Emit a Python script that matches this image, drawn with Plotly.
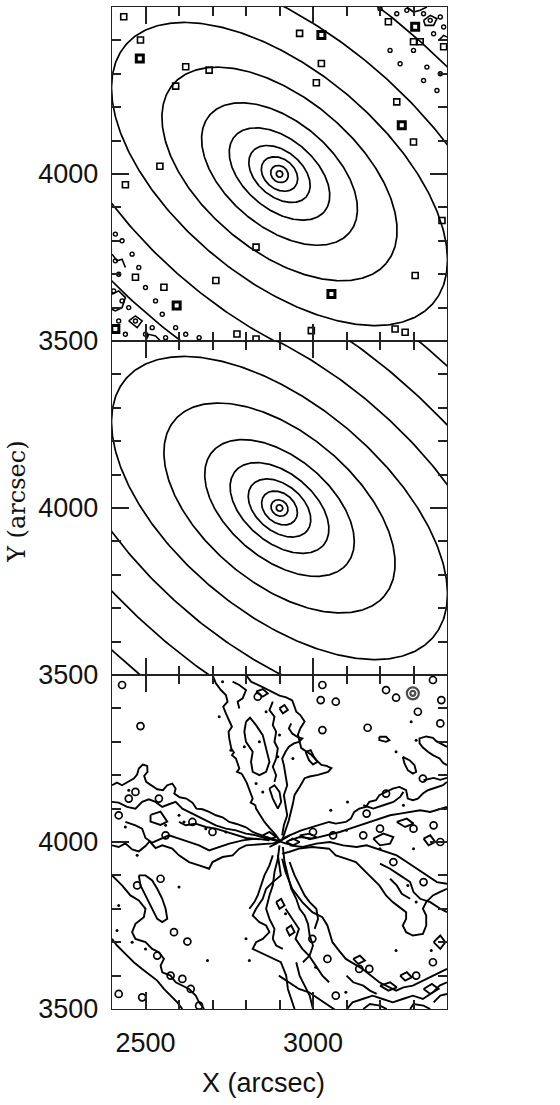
import numpy as np
import plotly.graph_objects as go
from plotly.subplots import make_subplots

# ---------------- data ----------------
X_RANGE = [2400, 3400]
Y_RANGE = [3500, 4500]
CENTER_X = 2900
CENTER_Y = 4000
PA_DEG = -40.0  # major axis runs upper-left to lower-right

X_TICKS = [2500, 3000]
Y_TICKS = [3500, 4000]

# panel 1: galaxy isophotes (semi-major axis, axis ratio)
GAL_A = [10, 28, 60, 105, 175, 273, 416, 600, 817, 1106]
GAL_Q = [0.95, 0.85, 0.75, 0.65, 0.60, 0.58, 0.55, 0.52, 0.52, 0.52]

# panel 1: stars / compact sources
GAL_STAR_X = [2435, 2485, 2620, 2590, 2690, 2960, 3025, 3010, 3225, 3300, 3320, 3390,
              3250, 3300, 2543, 2440, 3385, 2830, 3305, 3245, 3275, 2995, 2830, 2773,
              2470, 2710, 2555]
GAL_STAR_Y = [4471, 4401, 4321, 4263, 4311, 4421, 4331, 4273, 4456, 4396, 4396, 4381,
              4216, 4096, 4023, 3968, 3861, 3781, 3696, 3536, 3526, 3531, 3506, 3521,
              3691, 3681, 3661]
GAL_BRIGHT_X = [2483, 3025, 3305, 3265, 3055, 2410, 2593]
GAL_BRIGHT_Y = [4346, 4416, 4441, 4146, 3641, 3536, 3606]
GAL_SPECK_X = [2410, 2420, 2405, 2430, 2450, 2470, 2420, 2440, 2500, 2520, 2560, 2410,
               2430, 2460, 2480, 2500, 2530, 2550, 2590, 2620, 2660, 3330, 3350, 3380,
               3360, 3390, 3250, 3280, 3200, 3300, 3340, 3380, 3370, 3330, 3260, 3230]
GAL_SPECK_Y = [3740, 3700, 3650, 3620, 3600, 3560, 3560, 3520, 3520, 3540, 3510, 3820,
               3800, 3760, 3720, 3660, 3620, 3580, 3540, 3520, 3510, 4480, 4460, 4470,
               4420, 4440, 4480, 4490, 4495, 4370, 4320, 4300, 4250, 4280, 4330, 4370]

# panel 1: sky-noise contours in the corners
GAL_NOISE_A = [(3330, 4460), (3350, 4475), (3370, 4465), (3360, 4445), (3335, 4445), (3330, 4460)]
GAL_NOISE_B = [(3375, 4400), (3390, 4415), (3400, 4410)]
GAL_NOISE_C = [(3280, 4500), (3300, 4485), (3320, 4490), (3340, 4500)]
GAL_NOISE_D = [(2400, 3640), (2420, 3650), (2440, 3630), (2430, 3600), (2410, 3590), (2400, 3595)]
GAL_NOISE_E = [(2450, 3560), (2470, 3575), (2490, 3560), (2475, 3540), (2450, 3560)]
GAL_NOISE_F = [(2400, 3760), (2415, 3740), (2430, 3745), (2440, 3720)]
GAL_NOISE_G = [(2500, 3500), (2510, 3520), (2530, 3515), (2545, 3500)]
GAL_NOISE = [GAL_NOISE_A, GAL_NOISE_B, GAL_NOISE_C, GAL_NOISE_D, GAL_NOISE_E, GAL_NOISE_F,
             GAL_NOISE_G]

# panel 2: model isophotes
MODEL_A = [10, 27, 59, 107, 172, 262, 409, 600, 798, 1010, 1250]
MODEL_Q = [0.95, 0.85, 0.75, 0.65, 0.60, 0.58, 0.55, 0.52, 0.52, 0.52, 0.52]

# panel 3: residual contours (x, y)
RES_TOP_LOBE_LEFT = [(2700, 4500), (2710, 4475), (2725, 4455), (2740, 4440), (2745, 4420),
                     (2732, 4405), (2740, 4385), (2750, 4365), (2758, 4345), (2748, 4330),
                     (2750, 4310), (2756, 4280), (2764, 4268), (2758, 4260), (2770, 4250),
                     (2780, 4220), (2773, 4210), (2786, 4205), (2790, 4200), (2802, 4178),
                     (2810, 4155), (2820, 4130), (2814, 4118), (2828, 4110), (2830, 4100),
                     (2842, 4080), (2855, 4060), (2870, 4042), (2888, 4022), (2900, 4005)]
RES_TOP_LOBE_RIGHT = [(2800, 4500), (2815, 4480), (2845, 4466), (2875, 4450), (2900, 4438),
                      (2920, 4433), (2938, 4424), (2945, 4405), (2950, 4390), (2962, 4380),
                      (2975, 4361), (2962, 4340), (2955, 4321), (2965, 4281), (2980, 4272),
                      (2995, 4261), (3010, 4245), (3025, 4231), (3040, 4228), (3055, 4221),
                      (3045, 4210), (3015, 4201), (2990, 4196), (2975, 4191), (2960, 4165),
                      (2945, 4141), (2940, 4115), (2935, 4091), (2928, 4065), (2920, 4041),
                      (2910, 4011)]
RES_TOP_LOBE_INNER = [(2935, 4355), (2928, 4340), (2938, 4325), (2953, 4315), (2968, 4310),
                      (2958, 4300), (2943, 4295), (2928, 4285), (2918, 4270), (2908, 4250),
                      (2913, 4230), (2918, 4200), (2923, 4170), (2913, 4140), (2918, 4110),
                      (2923, 4080), (2913, 4050), (2908, 4020)]
RES_TOP_LOBE_INNER_B = [(2880, 4420), (2870, 4395), (2885, 4375), (2880, 4350), (2890, 4330),
                        (2885, 4300), (2895, 4280), (2890, 4250), (2880, 4225), (2890, 4200),
                        (2885, 4180)]
RES_TOP_LOBE_INNER_C = [(2760, 4480), (2780, 4470), (2800, 4455), (2790, 4430), (2775, 4420),
                        (2780, 4400)]
RES_TOP_LOBE_BLOB_A = [(2800, 4360), (2795, 4330), (2800, 4300), (2820, 4270), (2815, 4240),
                       (2820, 4210), (2840, 4200), (2860, 4210), (2870, 4240), (2860, 4280),
                       (2850, 4320), (2830, 4350), (2812, 4372), (2800, 4360)]
RES_TOP_LOBE_BLOB_B = [(2870, 4160), (2880, 4130), (2895, 4100), (2905, 4120), (2900, 4150),
                       (2885, 4170), (2870, 4160)]
RES_TOP_LOBE_BLOB_C = [(2978, 4270), (2993, 4275), (3003, 4255), (3013, 4240), (3000, 4232),
                       (2988, 4245), (2978, 4270)]
RES_TOP_LOBE_BLOB_D = [(2830, 4450), (2850, 4458), (2865, 4445), (2850, 4435), (2830, 4450)]
RES_TOP_LOBE_BLOB_E = [(2900, 4400), (2915, 4410), (2925, 4395), (2910, 4385), (2900, 4400)]

RES_LEFT_LOBE_TOP = [(2400, 4170), (2415, 4178), (2430, 4170), (2450, 4180), (2465, 4190),
                     (2475, 4202), (2480, 4220), (2492, 4232), (2505, 4228), (2506, 4210),
                     (2496, 4198), (2502, 4180), (2518, 4168), (2535, 4158), (2552, 4155),
                     (2565, 4170), (2580, 4175), (2590, 4160), (2586, 4145), (2602, 4134),
                     (2622, 4130), (2640, 4118), (2652, 4100), (2670, 4098), (2690, 4090),
                     (2710, 4080), (2730, 4074), (2750, 4060), (2772, 4054), (2800, 4044),
                     (2820, 4030), (2845, 4020), (2870, 4010), (2900, 4000)]
RES_LEFT_LOBE_BOTTOM = [(2400, 3990), (2420, 3985), (2440, 3996), (2460, 3978), (2480, 3972),
                        (2500, 3988), (2512, 4002), (2530, 3982), (2550, 3990), (2580, 3980),
                        (2600, 3960), (2630, 3940), (2660, 3930), (2690, 3920), (2700, 3940),
                        (2730, 3955), (2760, 3960), (2780, 3980), (2800, 3990), (2840, 3992),
                        (2880, 3996), (2900, 4000)]
RES_LEFT_LOBE_INNER_A = [(2400, 4120), (2420, 4118), (2445, 4105), (2470, 4100), (2490, 4120),
                         (2510, 4128), (2530, 4120), (2550, 4105), (2570, 4113), (2590, 4120),
                         (2610, 4100), (2630, 4090), (2650, 4080), (2670, 4070), (2690, 4060),
                         (2710, 4050), (2740, 4040), (2770, 4035), (2800, 4025), (2830, 4020),
                         (2860, 4010), (2900, 4003)]
RES_LEFT_LOBE_INNER_B = [(2440, 4060), (2470, 4050), (2490, 4040), (2500, 4012), (2520, 3998),
                         (2545, 4010), (2570, 4020), (2600, 4010), (2630, 4000), (2660, 3990),
                         (2690, 3975), (2720, 3985), (2750, 3995), (2790, 4005), (2830, 4010),
                         (2870, 4005)]
RES_LEFT_LOBE_INNER_C = [(2600, 4060), (2620, 4050), (2650, 4055), (2680, 4045), (2710, 4040),
                         (2740, 4030), (2770, 4020), (2800, 4012), (2840, 4008)]
RES_LEFT_LOBE_BLOB = [(2515, 4081), (2545, 4091), (2565, 4061), (2545, 4051), (2515, 4061),
                      (2515, 4081)]

RES_RIGHT_LOBE_TOP = [(2905, 4005), (2930, 4020), (2965, 4035), (3000, 4045), (3030, 4055),
                      (3048, 4060), (3068, 4055), (3098, 4060), (3113, 4070), (3123, 4090),
                      (3138, 4100), (3158, 4105), (3168, 4120), (3188, 4125), (3198, 4140),
                      (3218, 4150), (3238, 4160), (3258, 4165), (3278, 4155), (3283, 4130),
                      (3298, 4125), (3313, 4130), (3328, 4145), (3343, 4155), (3358, 4160),
                      (3373, 4165), (3388, 4170), (3400, 4180)]
RES_RIGHT_LOBE_INNER_A = [(2930, 4005), (2960, 4015), (3000, 4010), (3040, 4020), (3080, 4030),
                          (3110, 4040), (3140, 4050), (3170, 4060), (3200, 4070), (3230, 4080),
                          (3260, 4085), (3290, 4090), (3320, 4095), (3350, 4090), (3380, 4100),
                          (3400, 4105)]
RES_RIGHT_LOBE_INNER_B = [(2930, 3990), (2970, 3985), (3010, 3995), (3050, 4000), (3090, 3990),
                          (3130, 3985), (3160, 3990), (3190, 3980), (3220, 3970), (3250, 3960),
                          (3280, 3940), (3310, 3920), (3340, 3900), (3370, 3880), (3400, 3875)]
RES_RIGHT_LOBE_INNER_C = [(3200, 3935), (3230, 3920), (3260, 3900), (3290, 3880), (3300, 3850),
                          (3320, 3830), (3350, 3820), (3380, 3800), (3400, 3790)]
RES_RIGHT_LOBE_INNER_D = [(3150, 4110), (3180, 4100), (3210, 4110), (3240, 4120), (3260, 4135),
                          (3270, 4150)]
RES_RIGHT_LOBE_INNER_E = [(3230, 3890), (3250, 3870), (3265, 3845), (3290, 3830)]
RES_RIGHT_LOBE_BLOB_A = [(3250, 4060), (3280, 4070), (3300, 4055), (3275, 4045), (3250, 4060)]
RES_RIGHT_LOBE_BLOB_B = [(3330, 4010), (3350, 4020), (3365, 4000), (3345, 3990), (3330, 4010)]
RES_RIGHT_LOBE_BLOB_C = [(3180, 4010), (3210, 4025), (3240, 4015), (3230, 3995), (3200, 3990),
                         (3180, 4010)]
RES_RIGHT_LOBE_BLOB_D = [(3360, 3700), (3380, 3720), (3395, 3700), (3380, 3680), (3360, 3700)]
RES_LENS_TOP = [(2908, 3965), (2928, 3970), (2958, 3980), (2998, 3985), (3048, 3980),
                (3068, 3960), (3098, 3950), (3128, 3940), (3158, 3910), (3178, 3890),
                (3198, 3870), (3218, 3840), (3238, 3820), (3258, 3805), (3278, 3790),
                (3278, 3770), (3268, 3750), (3278, 3730), (3298, 3720), (3328, 3725),
                (3338, 3750), (3338, 3780), (3328, 3800), (3338, 3820), (3358, 3840),
                (3378, 3850), (3400, 3860)]
RES_LENS_BOTTOM = [(2908, 3950), (2918, 3910), (2938, 3860), (2968, 3820), (2998, 3790),
                   (3028, 3775), (3043, 3750), (3058, 3700), (3080, 3672), (3098, 3650),
                   (3148, 3620), (3175, 3598), (3198, 3580), (3248, 3555), (3270, 3565),
                   (3298, 3570), (3358, 3600), (3400, 3620)]
RES_BOTTOM_LOBE_LEFT = [(2895, 3961), (2904, 3900), (2880, 3880), (2860, 3860), (2850, 3830),
                        (2830, 3800), (2820, 3780), (2840, 3760), (2860, 3750), (2870, 3730),
                        (2850, 3710), (2830, 3700), (2820, 3680), (2840, 3670), (2860, 3660),
                        (2880, 3650), (2904, 3640), (2920, 3600), (2925, 3560), (2935, 3530),
                        (2945, 3500)]
RES_BOTTOM_INNER_A = [(2900, 3990), (2895, 3950), (2885, 3910), (2880, 3870), (2870, 3840),
                      (2860, 3800), (2870, 3770), (2885, 3740), (2880, 3710), (2890, 3690),
                      (2910, 3680)]
RES_BOTTOM_INNER_B = [(2910, 3985), (2915, 3940), (2925, 3900), (2935, 3860), (2950, 3830),
                      (2960, 3800), (2975, 3780), (2985, 3755), (2990, 3720), (3000, 3690),
                      (2990, 3660), (2970, 3640)]
RES_BOTTOM_INNER_C = [(2918, 3800), (2938, 3770), (2958, 3740), (2948, 3710), (2968, 3680),
                      (2988, 3660), (3008, 3630), (3028, 3600), (3048, 3580)]
RES_BOTTOM_INNER_D = [(2880, 3960), (2870, 3930), (2855, 3900), (2845, 3870), (2835, 3840),
                      (2825, 3820), (2810, 3800)]
RES_BOTTOM_INNER_E = [(2930, 3940), (2945, 3900), (2960, 3870), (2975, 3840), (2990, 3820),
                      (3010, 3800), (3015, 3770), (3005, 3740)]
RES_BOTTOM_INNER_F = [(2950, 3640), (2960, 3600), (2975, 3570), (2990, 3540), (3000, 3500)]
RES_BOTTOM_BLOB_A = [(2890, 3820), (2905, 3830), (2915, 3810), (2900, 3800), (2890, 3820)]
RES_BOTTOM_BLOB_B = [(2920, 3740), (2935, 3750), (2945, 3730), (2930, 3720), (2920, 3740)]
RES_LR_RING_A = [(2898, 3600), (2928, 3580), (2958, 3560), (2988, 3550), (3018, 3530),
                 (3048, 3510), (3068, 3496)]
RES_LR_RING_B = [(3098, 3496), (3118, 3520), (3148, 3530), (3178, 3540), (3208, 3530),
                 (3238, 3520), (3268, 3530), (3298, 3540), (3328, 3530), (3358, 3550),
                 (3378, 3570), (3400, 3580)]
RES_LR_RING_C = [(3100, 3600), (3120, 3580), (3150, 3570), (3170, 3555), (3190, 3545)]
RES_LR_BLOB_A = [(3200, 3570), (3230, 3580), (3250, 3565), (3225, 3555), (3200, 3570)]
RES_LR_BLOB_B = [(3330, 3560), (3355, 3575), (3375, 3560), (3350, 3545), (3330, 3560)]
RES_LR_BLOB_C = [(3260, 3600), (3280, 3610), (3295, 3595), (3275, 3585), (3260, 3600)]
RES_LR_BLOB_D = [(3120, 3650), (3140, 3660), (3155, 3645), (3135, 3635), (3120, 3650)]
RES_LR_EDGE_A = [(3150, 3500), (3170, 3515), (3200, 3510), (3220, 3500)]
RES_LR_EDGE_B = [(3290, 3500), (3300, 3515), (3330, 3510), (3350, 3500)]
RES_LR_EDGE_C = [(3360, 3520), (3380, 3540), (3400, 3545)]
RES_UR_EDGE_BLOB = [(3400, 4285), (3388, 4292), (3368, 4302), (3358, 4312), (3338, 4316),
                    (3318, 4310), (3318, 4296), (3328, 4283), (3343, 4270), (3358, 4260),
                    (3378, 4250), (3388, 4237), (3400, 4230)]
RES_UR_EDGE_LINE = [(3330, 4185), (3360, 4192), (3380, 4186), (3400, 4192)]
RES_UR_ARC_BLOB_A = [(3268, 4255), (3288, 4245), (3303, 4230), (3308, 4210), (3298, 4205),
                     (3283, 4215), (3273, 4235), (3268, 4255)]
RES_UR_ARC_BLOB_B = [(3198, 4315), (3218, 4315), (3228, 4305), (3218, 4300), (3198, 4305),
                     (3198, 4315)]
RES_LL_RING_A = [(2400, 3900), (2430, 3870), (2455, 3840), (2480, 3825), (2500, 3800),
                 (2495, 3775), (2470, 3755), (2460, 3730), (2470, 3710), (2500, 3700),
                 (2520, 3680), (2540, 3670), (2555, 3650), (2545, 3630), (2550, 3610),
                 (2575, 3600), (2590, 3580), (2610, 3570), (2630, 3560), (2650, 3540),
                 (2660, 3520), (2675, 3500)]
RES_LL_RING_B = [(2400, 3710), (2415, 3690), (2440, 3665), (2465, 3640), (2490, 3620),
                 (2515, 3600), (2535, 3585), (2555, 3560), (2575, 3540), (2595, 3520),
                 (2610, 3500)]
RES_LL_ELONG_BLOB = [(2480, 3900), (2500, 3900), (2520, 3885), (2535, 3860), (2550, 3830),
                     (2560, 3800), (2565, 3770), (2550, 3760), (2535, 3770), (2520, 3800),
                     (2510, 3820), (2495, 3850), (2485, 3870), (2480, 3900)]
RES_CENTER_LOOP_A = [(2850, 4020), (2870, 4030), (2890, 4015), (2870, 4008), (2850, 4020)]
RES_CENTER_LOOP_B = [(2920, 4000), (2940, 4010), (2960, 4000), (2940, 3990), (2920, 4000)]
RES_CENTER_LOOP_C = [(2960, 4020), (2990, 4025), (3010, 4015), (2990, 4008), (2960, 4020)]
RES_CENTER_CROSS_A = [(2860, 4015), (2880, 4008), (2900, 4000), (2920, 3995), (2945, 3990)]
RES_CENTER_CROSS_B = [(2870, 3985), (2890, 3995), (2910, 4010), (2930, 4020)]

RES_BLOB_X = [2430, 2485, 2835, 3028, 3023, 3068, 3028, 3163, 3218, 3248, 3313, 3358,
              3383, 3328, 3218, 2585, 2625, 2535, 2575, 2610, 2635, 2490, 2420, 2998,
              3043, 3358, 3308, 3138, 3168, 3068, 2545, 2475, 2660, 2450, 2470, 2540,
              2640, 2700, 2560, 2420, 3000, 3060, 3150, 3200, 3300, 3360, 3240, 3380,
              3160, 3330, 3380]
RES_BLOB_Y = [4470, 4347, 4435, 4470, 4425, 4420, 4335, 4342, 4455, 4432, 4390, 4485,
              4425, 4190, 4145, 3730, 3702, 3660, 3600, 3590, 3560, 3535, 3545, 3710,
              3650, 3640, 3600, 3620, 3620, 3540, 3890, 3870, 3510, 4130, 4150, 4130,
              4060, 4030, 4020, 4080, 4030, 4020, 4020, 4040, 4040, 4050, 3940, 4000,
              4085, 3880, 4355]
RES_STAR_X = [3298]
RES_STAR_Y = [4445]
RES_SPECK_X = [2730, 2720, 2755, 2795, 2840, 2895, 2440, 2450, 2560, 2615, 2680, 3293,
               3308, 3248, 3103, 3053, 2475, 2600, 2420, 2685, 2800, 2810, 2460, 2500,
               2415, 2918, 3008, 3248, 3353, 3283, 3308, 3098, 2860, 2830, 2850, 2900,
               2940, 3100, 3200, 3270, 3300, 2600, 2740]
RES_SPECK_Y = [4480, 4375, 4275, 4285, 4300, 4255, 4045, 4155, 4050, 4060, 4040, 4360,
               4305, 4270, 4120, 4095, 3960, 3865, 3810, 3645, 3710, 3645, 3700, 3680,
               3735, 3785, 3625, 3675, 3675, 3870, 3820, 3550, 4390, 4175, 4150, 4320,
               4250, 4035, 3980, 4110, 3980, 4080, 4030]

RES_LINES = [RES_TOP_LOBE_LEFT, RES_TOP_LOBE_RIGHT, RES_TOP_LOBE_INNER, RES_TOP_LOBE_INNER_B,
             RES_TOP_LOBE_INNER_C, RES_TOP_LOBE_BLOB_A, RES_TOP_LOBE_BLOB_B,
             RES_TOP_LOBE_BLOB_C, RES_TOP_LOBE_BLOB_D, RES_TOP_LOBE_BLOB_E,
             RES_LEFT_LOBE_TOP, RES_LEFT_LOBE_BOTTOM, RES_LEFT_LOBE_INNER_A,
             RES_LEFT_LOBE_INNER_B, RES_LEFT_LOBE_INNER_C, RES_LEFT_LOBE_BLOB,
             RES_RIGHT_LOBE_TOP, RES_RIGHT_LOBE_INNER_A, RES_RIGHT_LOBE_INNER_B,
             RES_RIGHT_LOBE_INNER_C, RES_RIGHT_LOBE_INNER_D, RES_RIGHT_LOBE_INNER_E,
             RES_RIGHT_LOBE_BLOB_A, RES_RIGHT_LOBE_BLOB_B, RES_RIGHT_LOBE_BLOB_C,
             RES_RIGHT_LOBE_BLOB_D, RES_LENS_TOP, RES_LENS_BOTTOM, RES_BOTTOM_LOBE_LEFT,
             RES_BOTTOM_INNER_A, RES_BOTTOM_INNER_B, RES_BOTTOM_INNER_C, RES_BOTTOM_INNER_D,
             RES_BOTTOM_INNER_E, RES_BOTTOM_INNER_F, RES_BOTTOM_BLOB_A, RES_BOTTOM_BLOB_B,
             RES_LR_RING_A, RES_LR_RING_B, RES_LR_RING_C, RES_LR_BLOB_A, RES_LR_BLOB_B,
             RES_LR_BLOB_C, RES_LR_BLOB_D, RES_LR_EDGE_A, RES_LR_EDGE_B, RES_LR_EDGE_C,
             RES_UR_EDGE_BLOB, RES_UR_EDGE_LINE, RES_UR_ARC_BLOB_A, RES_UR_ARC_BLOB_B,
             RES_LL_RING_A, RES_LL_RING_B, RES_LL_ELONG_BLOB, RES_CENTER_LOOP_A,
             RES_CENTER_LOOP_B, RES_CENTER_LOOP_C, RES_CENTER_CROSS_A, RES_CENTER_CROSS_B]

# ---------------- helpers ----------------
LINE_W = 1.7
INK = "#000000"
AXIS_INK = "#222222"


def ellipse_path(a_list, q_list):
    th = np.deg2rad(PA_DEG)
    t = np.linspace(0, 2 * np.pi, 400)
    xs, ys = [], []
    for a, q in zip(a_list, q_list):
        b = a * q
        x = CENTER_X + a * np.cos(t) * np.cos(th) - b * np.sin(t) * np.sin(th)
        y = CENTER_Y + a * np.cos(t) * np.sin(th) + b * np.sin(t) * np.cos(th)
        xs += list(x) + [None]
        ys += list(y) + [None]
    return xs, ys


def join_paths(paths):
    xs, ys = [], []
    for p in paths:
        xs += [pt[0] for pt in p] + [None]
        ys += [pt[1] for pt in p] + [None]
    return xs, ys


fig = make_subplots(rows=3, cols=1, shared_xaxes=True, vertical_spacing=0)

# panel 1
gx, gy = ellipse_path(GAL_A, GAL_Q)
fig.add_trace(go.Scatter(x=gx, y=gy, mode="lines", line=dict(color=INK, width=LINE_W),
                         hoverinfo="skip"), row=1, col=1)
nx, ny = join_paths(GAL_NOISE)
fig.add_trace(go.Scatter(x=nx, y=ny, mode="lines", line=dict(color=INK, width=1.6),
                         hoverinfo="skip"), row=1, col=1)
fig.add_trace(go.Scatter(x=GAL_STAR_X, y=GAL_STAR_Y, mode="markers",
                         marker=dict(symbol="square-open", size=6, color=INK,
                                     line=dict(width=1.6, color=INK)), hoverinfo="skip"),
              row=1, col=1)
fig.add_trace(go.Scatter(x=GAL_BRIGHT_X, y=GAL_BRIGHT_Y, mode="markers",
                         marker=dict(symbol="square-open", size=7, color=INK,
                                     line=dict(width=3, color=INK)), hoverinfo="skip"),
              row=1, col=1)
fig.add_trace(go.Scatter(x=GAL_SPECK_X, y=GAL_SPECK_Y, mode="markers",
                         marker=dict(symbol="circle-open", size=4, color=INK,
                                     line=dict(width=1.4, color=INK)), hoverinfo="skip"),
              row=1, col=1)

# panel 2
mx, my = ellipse_path(MODEL_A, MODEL_Q)
fig.add_trace(go.Scatter(x=mx, y=my, mode="lines", line=dict(color=INK, width=LINE_W),
                         hoverinfo="skip"), row=2, col=1)

# panel 3
rx, ry = join_paths(RES_LINES)
fig.add_trace(go.Scatter(x=rx, y=ry, mode="lines", line=dict(color=INK, width=1.9),
                         hoverinfo="skip"), row=3, col=1)
fig.add_trace(go.Scatter(x=RES_BLOB_X, y=RES_BLOB_Y, mode="markers",
                         marker=dict(symbol="circle-open", size=7, color=INK,
                                     line=dict(width=1.7, color=INK)), hoverinfo="skip"),
              row=3, col=1)
fig.add_trace(go.Scatter(x=RES_STAR_X + RES_STAR_X, y=RES_STAR_Y + RES_STAR_Y, mode="markers",
                         marker=dict(symbol="circle-open", size=[12, 5], color=INK,
                                     line=dict(width=2.2, color=INK)), hoverinfo="skip"),
              row=3, col=1)
fig.add_trace(go.Scatter(x=RES_SPECK_X, y=RES_SPECK_Y, mode="markers",
                         marker=dict(symbol="circle", size=3, color=INK), hoverinfo="skip"),
              row=3, col=1)

TICKFONT = dict(family="Liberation Sans, Arial, sans-serif", size=27, color="#111")
domains = [[2 / 3, 1.0], [1 / 3, 2 / 3], [0.0, 1 / 3]]
for i in range(3):
    xa = "xaxis" if i == 0 else f"xaxis{i + 1}"
    ya = "yaxis" if i == 0 else f"yaxis{i + 1}"
    fig.layout[xa].update(
        range=X_RANGE, showgrid=False, zeroline=False, showline=True, linecolor=AXIS_INK,
        linewidth=1.4, mirror="ticks", ticks="inside", ticklen=17, tickwidth=1.5,
        tickcolor=AXIS_INK, tickmode="array", tickvals=X_TICKS,
        ticktext=[str(v) for v in X_TICKS], showticklabels=(i == 2), tickfont=TICKFONT,
        minor=dict(ticks="inside", ticklen=9, tickwidth=1.5, tickcolor=AXIS_INK,
                   tickmode="linear", tick0=2400, dtick=100, showgrid=False),
        ticklabelstandoff=9,
    )
    fig.layout[ya].update(
        range=Y_RANGE, domain=domains[i], showgrid=False, zeroline=False, showline=True,
        linecolor=AXIS_INK, linewidth=1.4, mirror="ticks", ticks="inside", ticklen=17,
        tickwidth=1.5, tickcolor=AXIS_INK, tickmode="array", tickvals=Y_TICKS,
        ticktext=[str(v) for v in Y_TICKS], tickfont=TICKFONT,
        minor=dict(ticks="inside", ticklen=9, tickwidth=1.5, tickcolor=AXIS_INK,
                   tickmode="linear", tick0=3500, dtick=100, showgrid=False),
        ticklabelstandoff=7,
    )

fig.add_annotation(text="X (arcsec)", xref="paper", yref="paper", x=0.452, y=-0.074,
                   xanchor="center", yanchor="middle", showarrow=False,
                   font=dict(family="Liberation Sans, Arial, sans-serif", size=27, color="#111"))
fig.add_annotation(text="Y (arcsec)", xref="paper", yref="paper", x=-0.284, y=0.506,
                   xanchor="center", yanchor="middle", showarrow=False, textangle=-90,
                   font=dict(family="DejaVu Serif, serif", size=24, color="#111"))

fig.update_layout(width=560, height=1105, margin=dict(l=112, r=113, t=7, b=96),
                  showlegend=False, paper_bgcolor="white", plot_bgcolor="white")

fig.write_html("out.html", post_script="document.body.style.margin='0px';",
               config={"displayModeBar": False})
